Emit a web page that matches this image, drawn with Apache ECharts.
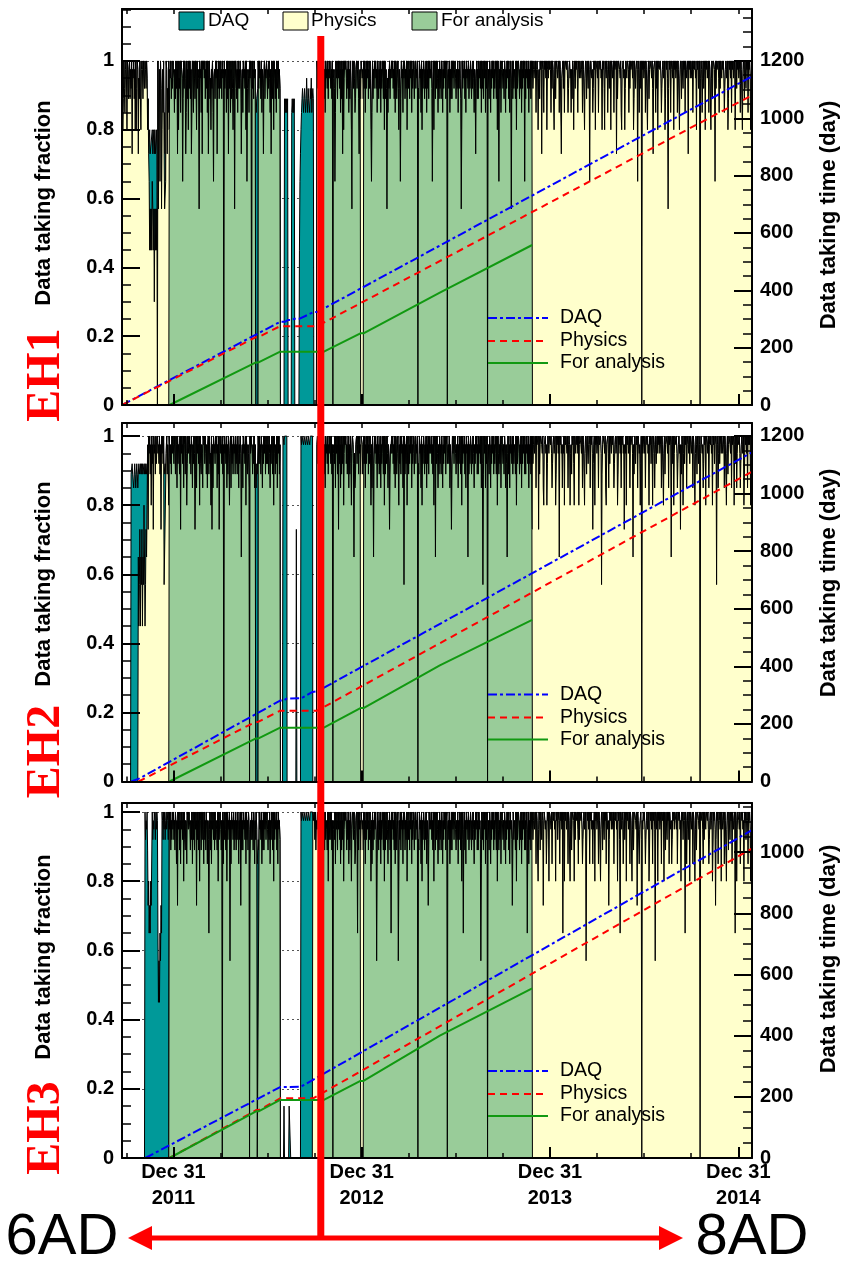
<!DOCTYPE html>
<html>
<head>
<meta charset="utf-8">
<title>Data taking fraction - EH1 / EH2 / EH3</title>
<script src="https://cdn.jsdelivr.net/npm/echarts@6/dist/echarts.min.js"></script>
<style>
  html, body { margin: 0; padding: 0; background: #ffffff; }
  #chart { width: 842px; height: 1261px; }
</style>
</head>
<body>
<div id="chart"></div>
<script>
// ---------------------------------------------------------------------------
// Daily data-taking fractions, one character per calendar day.
// '9'=1.00 '8'=0.975 '7'=0.95 '6'=0.92 '5'=0.89 '4'=0.85 '3'=0.80 '2'=0.73
// '1'=0.65 '0'=0.57 'a'=0.45 'b'=0.30 'c'=0.15 'z'=0 (no data that day)
// '-' = detector hall not taking data
// ---------------------------------------------------------------------------
const LEVELS = { '9': 1.00, '8': 0.975, '7': 0.95, '6': 0.92, '5': 0.89, '4': 0.85,
  '3': 0.80, '2': 0.73, '1': 0.65, '0': 0.57, 'a': 0.45, 'b': 0.30, 'c': 0.15, 'z': 0 };

const MONTHS = ["2011-09", "2011-10", "2011-11", "2011-12",
  "2012-01", "2012-02", "2012-03", "2012-04", "2012-05", "2012-06",
  "2012-07", "2012-08", "2012-09", "2012-10", "2012-11", "2012-12",
  "2013-01", "2013-02", "2013-03", "2013-04", "2013-05", "2013-06",
  "2013-07", "2013-08", "2013-09", "2013-10", "2013-11", "2013-12",
  "2014-01", "2014-02", "2014-03", "2014-04", "2014-05", "2014-06",
  "2014-07", "2014-08", "2014-09", "2014-10", "2014-11", "2014-12", "2015-01"];
const FIRST_DAY = 23;   // first month starts on Sep 23 2011
const LAST_DAY = 27;    // last month ends on Jan 27 2015

// Physics data fraction per day (one string per month)
const EH1_PHYS = [
  "98359648",
  "9739857 9586928 7958393 6982759 938",
  "9859769 8697352 1a0a0a1 0a0b0a0 a0",
  "z904819 6038492 0019826 4938795 769",
  "9748596 8293769 4987159 6972495 839",
  "6958249 8497596 3968709 7849298 9",
  "7958694 9269573 8694178 5979286 957",
  "9685978 z968749 5928694 8596379 06",
  "9758496 8697258 4978693 9168749 796",
  "z968597 8zzzzz9 6978594 8627958 79",
  "9586974 8297593 9758496 79586-- ---",
  "------- ------- ------- ------- ---",
  "------- ------- ------- ------- --",
  "-----98 6958749 8697958 4978695 879",
  "96859z7 8614978 5979684 9582937 98",
  "9758694 8596309 8697458 9689527 859",
  "9785969 4869795 8697314 9586979 684",
  "9758694 8697593 9586074 8695879",
  "7968594 9857963 8615978 4979586 938",
  "9685979 4869758 96879z6 5978493 86",
  "9758694 8695978 7961593 9859697 485",
  "9685974 8697958 9z78694 8595979 68",
  "9758694 8697503 9687958 4978695 869",
  "9586974 8627958 5978694 9685979 486",
  "9z68597 4869795 8697593 9718694 89",
  "9685974 8697958 4970695 9687593 968",
  "9758694 8697918 5978694 8695979 68",
  "9879489 8378598 9289849 8979389 798",
  "9849698 8379589 9789498 8278969 489",
  "9897468 9784859 8379698 9749879",
  "9789498 8379859 9698179 8784698 939",
  "9879489 8978398 9639879 8479689 39",
  "9789498 8929589 9879438 8978369 879",
  "9849698 8979359 9689819 847969z 98",
  "9789498 8379589 9879628 8974969 389",
  "9897468 9789359 8970698 9489879 398",
  "9789498 8379859 9698949 8789298 97",
  "9879489 8978398 9689z79 8479689 398",
  "9789498 8379589 9819698 8974969 87",
  "9897468 9789359 8979498 9789379 698",
  "9789498 8379859 9698949 897369"
];
const EH2_PHYS = [
  "--------",
  "------- ------- ------- ---1a02 a10",
  "2a1031a 0213829 7958396 8297859 68",
  "9786958 2979690 0007958 8397685 979",
  "8697598 4968759 2978694 9859736 978",
  "9685974 8697259 4978693 9658749 8",
  "9697584 8959673 9284978 6979485 927",
  "9786958 z978694 8596379 4968597 85",
  "9685974 8697158 4978693 965874z 979",
  "9758694 8zzzzz9 6968597 4869795 86",
  "9685974 8697593 9758694 97958-- ---",
  "------- ------- ------- ------- ---",
  "------- ------- ------- ------- --",
  "-----89 6859749 8697958 4978695 879",
  "96958z7 8694978 5929684 9586937 98",
  "9685794 8596379 8617458 9689597 859",
  "9857969 4869795 8697384 9516979 684",
  "9685794 8697593 9586974 8625879",
  "7968594 9857963 8695978 4909586 938",
  "9586979 4869758 96879z6 5978493 86",
  "9758694 8695978 7968593 9819697 485",
  "9685974 8697958 9678694 8525979 68",
  "9758694 8697593 9687958 4978195 869",
  "9586974 8697958 5978694 9605979 486",
  "9z68597 4869795 8697593 9758694 89",
  "9685974 8617958 4978695 9687593 968",
  "9758694 8697958 5978694 8695929 68",
  "9789498 8929589 9879438 8978369 879",
  "9897468 9789359 8979198 9784879 398",
  "9879489 8378598 9639879 8979389",
  "9879498 8379859 9689849 8972689 398",
  "9789498 8970589 9879438 8974969 87",
  "9897468 9789359 8979498 9782879 398",
  "9789498 8971859 9698949 878369z 97",
  "9879489 8978398 9689379 8479689 798",
  "9789498 8379589 9879498 8918969 379",
  "9897468 9782859 8379698 9489879 69",
  "9789498 8379859 9698z79 8784698 939",
  "9879489 8978398 9689809 8479689 79",
  "9789498 8379589 9879498 8938969 479",
  "9897468 9789359 8979498 989389"
];
const EH3_PHYS = [
  "--------",
  "------- ------- ------- ------- ---",
  "------- ------- ------- ------- --",
  "------- ------- ------- --97958 697",
  "9685974 8297958 4978693 9658749 879",
  "9758694 8695978 2968593 9859697 4",
  "9685974 8617958 4978695 9687593 968",
  "9758z94 8697593 9687908 4978695 86",
  "9586974 8692958 5978694 968597z 486",
  "9685974 8697zzz z978694 8595979 68",
  "9758694 8697593 9687958 49786-- ---",
  "------- ------- ------- ------- ---",
  "------- ------- ------- ------9 88",
  "9695879 8697958 4978695 9687593 968",
  "96958z7 8694978 5979684 9586937 98",
  "9758694 8596379 8697458 9619597 859",
  "9785969 4869795 8697384 9586979 604",
  "9758694 8697593 9586974 8695819",
  "7968594 9857903 8695978 4979586 938",
  "9685979 4869758 96879z6 5978493 86",
  "9758694 8625978 7968593 9859697 485",
  "9685974 8697958 9z78694 8595979 68",
  "9758694 8697593 9617958 4978695 869",
  "9586974 8697958 5978604 9685979 486",
  "9z68597 4869795 8697593 9758694 89",
  "9685974 8697958 4978625 9687593 968",
  "9758694 8697958 5971694 8695979 68",
  "9789498 8379859 9698279 8784698 939",
  "9879489 8978398 9689849 8979189 398",
  "9789498 8379589 9839698 8974969",
  "9897468 9789059 8979498 9784879 398",
  "9789498 8379859 9698949 8782698 97",
  "9879489 8978398 9619879 8479689 398",
  "9789498 8379589 9879298 847896z 87",
  "9897468 9789359 8979498 9709879 398",
  "9789498 8939859 9698949 8784698 979",
  "9879489 8978398 9689819 8479689 39",
  "9789498 8379589 9879z98 8974969 879",
  "9897468 9789359 8972698 9489879 39",
  "9789498 8379859 9698949 8789198 379",
  "9879489 8978398 9689849 897368"
];

// Days on which the DAQ ran with a fraction above the physics fraction:
// [first day, one level code per consecutive day]
const EH1_DAQ_ONLY = [
  ["2011-11-15", "2322223223232232"],
  ["2011-12-15", "44"],
  ["2012-06-09", "54556"],
  ["2012-08-04", "5454545"],
  ["2012-08-18", "454545"],
  ["2012-09-02", "a123456545654575465546574565"]
];
const EH2_DAQ_ONLY = [
  ["2011-10-11", "55655456545654"],
  ["2011-10-25", "5655656565565656556"],
  ["2011-12-14", "5565"],
  ["2012-06-09", "54655"],
  ["2012-08-01", "99899999"],
  ["2012-08-27", "2"],
  ["2012-09-05", "98999899989998999899999"]
];
const EH3_DAQ_ONLY = [
  ["2011-11-07", "96879523121322968798697981a0a102198697968979869"],
  ["2012-06-11", "54565"],
  ["2012-08-03", "c"],
  ["2012-08-13", "ccc"],
  ["2012-09-05", "98999899989998999899999"]
];

// Periods whose physics data enter the analysis sample
const ANALYSIS_PERIODS = [["2011-12-24", "2012-07-31"], ["2012-10-19", "2013-11-27"]];
const ANALYSIS_EXCLUDED = [["2012-12-30", "2013-01-04"]];

// Accumulated data taking time (day): [date, days]
const EH1_CUM_DAQ  = [["2011-09-23", 0], ["2012-07-26", 290], ["2012-08-04", 290], ["2012-08-10", 296],
  ["2012-08-18", 296], ["2012-08-23", 301], ["2012-09-02", 301], ["2012-09-29", 324], ["2012-10-06", 324], ["2015-01-27", 1146]];
const EH1_CUM_PHYS = [["2011-09-23", 0], ["2012-06-08", 236], ["2012-06-13", 236], ["2012-07-26", 275],
  ["2012-10-06", 275], ["2015-01-27", 1080]];
const EH1_CUM_ANA  = [["2011-12-24", 0], ["2012-06-08", 148], ["2012-06-13", 148], ["2012-07-26", 186],
  ["2012-10-19", 186], ["2012-12-29", 250], ["2013-01-04", 250], ["2013-06-01", 392], ["2013-11-27", 558]];

const EH2_CUM_DAQ  = [["2011-10-11", 0], ["2011-10-27", 11], ["2012-07-26", 281], ["2012-08-01", 281],
  ["2012-08-08", 288], ["2012-09-05", 289], ["2012-09-27", 311], ["2012-10-06", 313], ["2015-01-27", 1143]];
const EH2_CUM_PHYS = [["2011-10-25", 0], ["2012-06-08", 207], ["2012-06-13", 207], ["2012-07-26", 246],
  ["2012-10-06", 246], ["2015-01-27", 1076]];
const EH2_CUM_ANA  = [["2011-12-24", 0], ["2012-06-08", 149], ["2012-06-13", 149], ["2012-07-26", 187],
  ["2012-10-19", 187], ["2012-12-29", 255], ["2013-01-04", 255], ["2013-06-01", 403], ["2013-11-27", 561]];

const EH3_CUM_DAQ  = [["2011-11-07", 0], ["2012-07-26", 232], ["2012-09-04", 233], ["2012-09-27", 255],
  ["2012-09-28", 256], ["2015-01-27", 1072]];
const EH3_CUM_PHYS = [["2011-12-24", 0], ["2012-06-10", 157], ["2012-06-15", 157], ["2012-07-26", 195],
  ["2012-09-28", 195], ["2015-01-27", 1012]];
const EH3_CUM_ANA  = [["2011-12-24", 0], ["2012-06-10", 153], ["2012-06-15", 153], ["2012-07-26", 190],
  ["2012-10-19", 190], ["2012-12-29", 252], ["2013-01-04", 252], ["2013-06-01", 400], ["2013-11-27", 555]];

// Axis ticks and labels
const FRACTION_TICKS = [0, 0.2, 0.4, 0.6, 0.8, 1];
const DAY_TICKS = [0, 200, 400, 600, 800, 1000, 1200];
const YEAR_TICKS = [2012, 2013, 2014, 2015];           // Dec 31 of the previous year
const QUARTER_TICKS = [2011.75, 2012, 2012.25, 2012.5, 2012.75, 2013, 2013.25, 2013.5, 2013.75,
  2014, 2014.25, 2014.5, 2014.75, 2015];
const HALL_NAMES = ["EH1", "EH2", "EH3"];
const SWITCH_DATE = "2012-10-13";                      // 6 AD -> 8 AD configuration

// ---------------------------------------------------------------------------
// Helpers
// ---------------------------------------------------------------------------
const pad = n => String(n).padStart(2, '0');
const ymd = (y, m, d) => y + '-' + pad(m) + '-' + pad(d);
function decYear(y, m, d) {
  const a = Date.UTC(y, 0, 1), b = Date.UTC(y + 1, 0, 1);
  return y + (Date.UTC(y, m - 1, d, 12) - a) / (b - a);
}
function dateValue(s) { const [y, m, d] = s.split('-').map(Number); return decYear(y, m, d); }
const daysIn = (y, m) => new Date(Date.UTC(y, m, 0)).getUTCDate();

const CALENDAR = [];
MONTHS.forEach((ym, i) => {
  const [y, m] = ym.split('-').map(Number);
  const first = i === 0 ? FIRST_DAY : 1;
  const last = i === MONTHS.length - 1 ? LAST_DAY : daysIn(y, m);
  for (let d = first; d <= last; d++) {
    CALENDAR.push({ key: ymd(y, m, d), t: decYear(y, m, d), month: i, idx: d - first });
  }
});
const DAY_INDEX = {};
CALENDAR.forEach((c, i) => { DAY_INDEX[c.key] = i; });

function decode(monthStrings) {
  const clean = monthStrings.map(s => s.replace(/\s+/g, ''));
  return CALENDAR.map(c => {
    const ch = clean[c.month].charAt(c.idx);
    return (ch === '' || ch === '-') ? null : LEVELS[ch];
  });
}
// close each run of bins with a zero bin, so the outline drops to the axis like a histogram
function closeRuns(v) {
  return v.map((x, i) => x !== null ? x :
    (((i > 0 && v[i - 1] !== null) || (i < v.length - 1 && v[i + 1] !== null)) ? 0 : null));
}
const inRanges = (k, ranges) => ranges.some(([a, b]) => k >= a && k <= b);

function buildHall(phys, daqOnly) {
  const p = decode(phys);
  const daq = p.slice();
  daqOnly.forEach(([start, codes]) => {
    let i = DAY_INDEX[start];
    for (const ch of codes) { daq[i++] = ch === '-' ? null : LEVELS[ch]; }
  });
  const ana = p.map((v, i) => {
    const k = CALENDAR[i].key;
    return (inRanges(k, ANALYSIS_PERIODS) && !inRanges(k, ANALYSIS_EXCLUDED)) ? v : null;
  });
  return { daq: closeRuns(daq), phys: closeRuns(p), ana: closeRuns(ana) };
}
const toSeries = v => v.map((x, i) => [CALENDAR[i].t, x === null ? '-' : x]);
const toLine = arr => arr.map(([d, v]) => [dateValue(d), v]);

const HALLS = [
  { hist: buildHall(EH1_PHYS, EH1_DAQ_ONLY), cum: [EH1_CUM_DAQ, EH1_CUM_PHYS, EH1_CUM_ANA] },
  { hist: buildHall(EH2_PHYS, EH2_DAQ_ONLY), cum: [EH2_CUM_DAQ, EH2_CUM_PHYS, EH2_CUM_ANA] },
  { hist: buildHall(EH3_PHYS, EH3_DAQ_ONLY), cum: [EH3_CUM_DAQ, EH3_CUM_PHYS, EH3_CUM_ANA] }
];

// ---------------------------------------------------------------------------
// Layout and style
// ---------------------------------------------------------------------------
const FONT = '"Liberation Sans", Arial, Helvetica, sans-serif';
const SERIF = '"Liberation Serif", "Times New Roman", Times, serif';
const TEAL = '#009999', YELLOW = '#ffffcc', GREEN = '#99cc99';
const LINE_BLUE = '#0000ff', LINE_RED = '#ff0000', LINE_GREEN = '#119911';
const DASH_DAQ = [9, 3, 3, 3], DASH_PHYS = [7, 5];

const X_MIN = 2011.727, X_MAX = 2015.073;
const GRID_LEFT = 122, GRID_WIDTH = 630;
const PANELS = [
  { top: 9,   height: 396,   yMax: 1.151, dMax: 1381 },
  { top: 423, height: 358.5, yMax: 1.038, dMax: 1245 },
  { top: 803, height: 355,   yMax: 1.026, dMax: 1161 }
];

const option = { animation: false, grid: [], xAxis: [], yAxis: [], series: [] };
const blackLine = w => ({ color: '#000', width: w });

PANELS.forEach((P, p) => {
  option.grid.push({ left: GRID_LEFT, top: P.top, width: GRID_WIDTH, height: P.height, show: false });

  const xBase = { gridIndex: p, type: 'value', min: X_MIN, max: X_MAX, splitLine: { show: false }, z: 8 };
  option.xAxis.push(Object.assign({}, xBase, {
    position: 'bottom',
    axisLine: { show: true, onZero: false, lineStyle: blackLine(2) },
    axisTick: { show: true, inside: true, length: 5, customValues: QUARTER_TICKS, lineStyle: blackLine(1.5) },
    axisLabel: { show: p === 2, customValues: YEAR_TICKS, formatter: v => 'Dec 31\n' + (Math.round(v) - 1),
      color: '#000', fontFamily: FONT, fontWeight: 'bold', fontSize: 20, lineHeight: 26, margin: 1 }
  }));
  option.xAxis.push(Object.assign({}, xBase, {
    position: 'bottom',
    axisLine: { show: false },
    axisTick: { show: true, inside: true, length: 11, customValues: YEAR_TICKS, lineStyle: blackLine(2) },
    axisLabel: { show: false }
  }));
  option.xAxis.push(Object.assign({}, xBase, {
    position: 'top',
    axisLine: { show: true, onZero: false, lineStyle: blackLine(2) },
    axisTick: { show: true, inside: true, length: 5, customValues: QUARTER_TICKS, lineStyle: blackLine(1.5) },
    axisLabel: { show: false }
  }));

  const minorFrac = [], minorDay = [];
  for (let k = 1; k * 0.05 <= P.yMax + 1e-9; k++) if (k % 4) minorFrac.push(+(k * 0.05).toFixed(2));
  for (let k = 1; k * 50 <= P.dMax; k++) if (k % 4) minorDay.push(k * 50);
  const dayTicks = DAY_TICKS.filter(v => v <= P.dMax);
  const labelStyle = { color: '#000', fontFamily: FONT, fontWeight: 'bold', fontSize: 20, margin: 8 };

  const yBase = { gridIndex: p, type: 'value', splitLine: { show: false }, z: 8 };
  option.yAxis.push(Object.assign({}, yBase, {           // left fraction axis
    position: 'left', min: 0, max: P.yMax,
    axisLine: { show: true, onZero: false, lineStyle: blackLine(2) },
    axisTick: { show: true, inside: true, length: 18, customValues: FRACTION_TICKS, lineStyle: blackLine(2) },
    axisLabel: Object.assign({ customValues: FRACTION_TICKS, formatter: v => String(Math.round(v * 10) / 10) }, labelStyle)
  }));
  option.yAxis.push(Object.assign({}, yBase, {           // left minor ticks
    position: 'left', min: 0, max: P.yMax,
    axisLine: { show: false },
    axisTick: { show: true, inside: true, length: 9, customValues: minorFrac, lineStyle: blackLine(1.5) },
    axisLabel: { show: false }
  }));
  option.yAxis.push(Object.assign({}, yBase, {           // right day axis
    position: 'right', min: 0, max: P.dMax,
    axisLine: { show: true, onZero: false, lineStyle: blackLine(2) },
    axisTick: { show: true, inside: true, length: 18, customValues: dayTicks, lineStyle: blackLine(2) },
    axisLabel: Object.assign({ customValues: dayTicks, formatter: v => String(Math.round(v)) }, labelStyle)
  }));
  option.yAxis.push(Object.assign({}, yBase, {           // right minor ticks
    position: 'right', min: 0, max: P.dMax,
    axisLine: { show: false },
    axisTick: { show: true, inside: true, length: 9, customValues: minorDay, lineStyle: blackLine(1.5) },
    axisLabel: { show: false }
  }));
  option.yAxis.push({                                    // dotted grid behind the histograms
    gridIndex: p, type: 'value', position: 'left', min: 0, max: P.yMax, interval: 0.2, z: 0,
    axisLine: { show: false }, axisTick: { show: false }, axisLabel: { show: false },
    splitLine: { show: true, showMinLine: false, showMaxLine: false,
      lineStyle: { color: '#555', width: 1, type: [2, 3] } }
  });

  const H = HALLS[p];
  const hist = { type: 'line', xAxisIndex: p * 3, yAxisIndex: p * 5, step: 'middle', symbol: 'none',
    silent: true, connectNulls: false, lineStyle: { color: '#000', width: 1 }, emphasis: { disabled: true } };
  option.series.push(Object.assign({}, hist, { name: 'DAQ', data: toSeries(H.hist.daq), z: 2,
    areaStyle: { color: TEAL, opacity: 1 } }));
  option.series.push(Object.assign({}, hist, { name: 'Physics', data: toSeries(H.hist.phys), z: 3,
    areaStyle: { color: YELLOW, opacity: 1 } }));
  option.series.push(Object.assign({}, hist, { name: 'For analysis', data: toSeries(H.hist.ana), z: 4,
    areaStyle: { color: GREEN, opacity: 1 } }));

  const cum = { type: 'line', xAxisIndex: p * 3, yAxisIndex: p * 5 + 2, symbol: 'none', silent: true, z: 6,
    emphasis: { disabled: true } };
  option.series.push(Object.assign({}, cum, { name: 'DAQ time', data: toLine(H.cum[0]),
    lineStyle: { color: LINE_BLUE, width: 2, type: DASH_DAQ } }));
  option.series.push(Object.assign({}, cum, { name: 'Physics time', data: toLine(H.cum[1]),
    lineStyle: { color: LINE_RED, width: 2, type: DASH_PHYS } }));
  option.series.push(Object.assign({}, cum, { name: 'For analysis time', data: toLine(H.cum[2]),
    lineStyle: { color: LINE_GREEN, width: 2 } }));
});

const chart = echarts.init(document.getElementById('chart'), null, { renderer: 'canvas' });
chart.setOption(option);

// ---------------------------------------------------------------------------
// Legends, titles and annotations
// ---------------------------------------------------------------------------
function text(x, y, str, st, extra) {
  return Object.assign({ type: 'text', x: x, y: y, z: 100, silent: true,
    style: Object.assign({ text: str, fill: '#000', fontFamily: FONT, fontSize: 19,
      align: 'left', verticalAlign: 'middle' }, st) }, extra || {});
}
const g = [];

// fill legend at the top of the first panel
[[179, TEAL, 'DAQ', 208], [283, YELLOW, 'Physics', 311], [412, GREEN, 'For analysis', 441]].forEach(([bx, c, label, tx]) => {
  g.push({ type: 'rect', z: 100, silent: true, shape: { x: bx, y: 12, width: 25, height: 18 },
    style: { fill: c, stroke: '#000', lineWidth: 1 } });
  g.push(text(tx, 21, label, { fontSize: 19 }));
});

PANELS.forEach((P, p) => {
  const bottom = P.top + P.height;
  // line legend
  [[LINE_BLUE, DASH_DAQ, 'DAQ', 87], [LINE_RED, DASH_PHYS, 'Physics', 64], [LINE_GREEN, null, 'For analysis', 42]]
    .forEach(([c, dash, label, dy]) => {
      const y = bottom - dy;
      g.push({ type: 'line', z: 100, silent: true, shape: { x1: 488, y1: y, x2: 548, y2: y },
        style: { stroke: c, lineWidth: 2, lineDash: dash || null } });
      g.push(text(560, y, label, { fontSize: 19.5 }));
    });
  // axis titles
  const leftC = [203, 584, 957][p], rightC = [215, 583, 959][p];
  g.push(text(44, leftC, 'Data taking fraction', { fontSize: 22, fontWeight: 'bold', align: 'center' },
    { rotation: Math.PI / 2 }));
  g.push(text(829, rightC, 'Data taking time (day)', { fontSize: 22, fontWeight: 'bold', align: 'center' },
    { rotation: Math.PI / 2 }));
  // hall name
  g.push(text(47, bottom - 30, HALL_NAMES[p], { fontSize: 48, fontWeight: 'bold', fontFamily: SERIF,
    fill: '#ff0000', align: 'center' }, { rotation: Math.PI / 2 }));
});

// 6 AD / 8 AD boundary
const sx = chart.convertToPixel({ xAxisIndex: 0 }, dateValue(SWITCH_DATE));
const ay = 1238;
g.push({ type: 'line', z: 101, silent: true, shape: { x1: sx, y1: 36, x2: sx, y2: ay },
  style: { stroke: '#ff0000', lineWidth: 7 } });
g.push({ type: 'line', z: 101, silent: true, shape: { x1: 148, y1: ay, x2: 663, y2: ay },
  style: { stroke: '#ff0000', lineWidth: 5 } });
g.push({ type: 'polygon', z: 101, silent: true, shape: { points: [[128, ay], [152, ay - 12], [152, ay + 12]] },
  style: { fill: '#ff0000' } });
g.push({ type: 'polygon', z: 101, silent: true, shape: { points: [[683, ay], [659, ay - 12], [659, ay + 12]] },
  style: { fill: '#ff0000' } });
g.push(text(62, ay, '6AD', { fontSize: 58, align: 'center' }));
g.push(text(752, ay, '8AD', { fontSize: 58, align: 'center' }));

chart.setOption({ graphic: g });
</script>
</body>
</html>
